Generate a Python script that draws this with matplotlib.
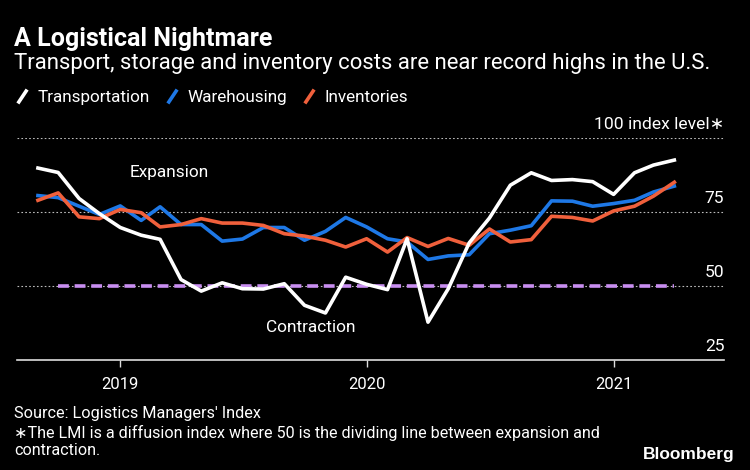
import numpy as np
import pandas as pd
import matplotlib.pyplot as plt
import matplotlib.dates as mdates
from matplotlib.lines import Line2D

# Dados mensais (set/2018 a abr/2021)
months = pd.date_range('2018-09-01', '2021-04-01', freq='MS')

transportation = [89.9, 88.4, 79.6, 74.5, 69.8, 67.2, 65.8, 52.2, 48.3, 51.1, 49.1, 49.0,
                  50.8, 43.5, 40.9, 53.0, 50.6, 48.8, 66.0, 37.8, 49.1, 64.6, 73.0, 84.1,
                  88.3, 85.7, 86.0, 85.3, 81.0, 88.3, 90.9, 92.6]
warehousing = [80.6, 79.9, 77.0, 74.2, 77.1, 72.2, 76.8, 70.8, 70.8, 65.2, 65.9, 69.8,
               69.8, 65.5, 68.5, 73.2, 70.0, 66.0, 64.9, 59.0, 60.2, 60.6, 67.7, 68.9,
               70.4, 78.8, 78.7, 77.0, 77.9, 79.0, 81.8, 83.8]
inventories = [79.0, 81.5, 73.4, 72.8, 75.9, 74.8, 70.0, 70.8, 72.8, 71.3, 71.3, 70.5,
               67.7, 66.9, 65.5, 63.2, 66.0, 61.5, 66.4, 63.4, 66.1, 63.8, 69.3, 64.9,
               65.7, 73.6, 73.2, 72.0, 75.4, 77.0, 80.4, 85.1]
threshold = 50
threshold_months = months[1:]

yticks = [25, 50, 75, 100]
ytick_labels = ['25', '50', '75', '100 index level\u2217']
years = ['2019', '2020', '2021']

c_white = '#ffffff'
c_blue = '#1e78e6'
c_orange = '#f0603c'
c_purple = '#c88ef0'

plt.rcParams['font.family'] = ['Roboto', 'DejaVu Sans']

fig = plt.figure(figsize=(7.5, 4.7), dpi=100, facecolor='black')
ax = fig.add_axes([0.0227, 0.234, 0.943, 0.472])
ax.set_facecolor('black')

# linhas de grade tracejadas
for v in yticks[1:]:
    ax.axhline(v, color='#bbbbbb', linestyle=(0, (1.5, 2)), linewidth=0.8, zorder=1)

ax.plot(threshold_months, [threshold] * len(threshold_months), color=c_purple,
        linestyle=(0, (3, 1.6)), linewidth=2.6, zorder=2)
ax.plot(months, warehousing, color=c_blue, linewidth=2.6, zorder=3)
ax.plot(months, inventories, color=c_orange, linewidth=2.6, zorder=4)
ax.plot(months, transportation, color=c_white, linewidth=2.6, zorder=5)

ax.set_ylim(25, 100)
ax.set_xlim(pd.Timestamp('2018-08-01'), pd.Timestamp('2021-06-14'))

for s in ['top', 'right', 'left']:
    ax.spines[s].set_visible(False)
ax.spines['bottom'].set_color('#dddddd')
ax.spines['bottom'].set_linewidth(1.2)

ax.set_yticks([])
for v, lab in zip(yticks, ytick_labels):
    ax.text(1.0, v + 2.2, lab, transform=ax.get_yaxis_transform(), ha='right',
            va='bottom', color='white', fontsize=12.6)

ax.set_xticks([pd.Timestamp(y + '-01-01') for y in years])
ax.set_xticklabels(years)
ax.tick_params(axis='x', colors='white', labelsize=12, length=5, width=1,
               color='#dddddd', pad=7)

ax.text(pd.Timestamp('2019-01-15'), 88.5, 'Expansion', color='white', fontsize=12.4, va='center')
ax.text(pd.Timestamp('2019-08-05'), 36, 'Contraction', color='white', fontsize=12.4, va='center')

# título e subtítulo
fig.text(0.019, 0.918, 'A Logistical Nightmare', color='white', fontsize=18,
         fontweight='bold', va='center')
fig.text(0.019, 0.865, 'Transport, storage and inventory costs are near record highs in the U.S.',
         color='white', fontsize=15.9, va='center')

slash = [(-1, -1.5), (1, 1.5)]
handles = [Line2D([], [], color=c, marker=slash, markersize=10, markeredgewidth=2.6,
                  linestyle='None') for c in [c_white, c_blue, c_orange]]
leg = fig.legend(handles, ['Transportation', 'Warehousing', 'Inventories'], ncol=3,
                 loc='center left', bbox_to_anchor=(-0.001, 0.793), frameon=False,
                 handlelength=0.9, handletextpad=0.45, columnspacing=0.85, fontsize=12.3)
for t in leg.get_texts():
    t.set_color('white')

fig.text(0.019, 0.121, "Source: Logistics Managers' Index", color='white', fontsize=11.7, va='center')
fig.text(0.019, 0.079, '\u2217The LMI is a diffusion index where 50 is the dividing line between expansion and',
         color='white', fontsize=11.6, va='center')
fig.text(0.019, 0.042, 'contraction.', color='white', fontsize=11.6, va='center')
fig.text(0.98, 0.032, 'Bloomberg', color='white', fontsize=12.5, fontweight='bold',
         ha='right', va='center', family=['Liberation Sans', 'DejaVu Sans'])

fig.savefig('out.png', dpi=100, facecolor='black')
